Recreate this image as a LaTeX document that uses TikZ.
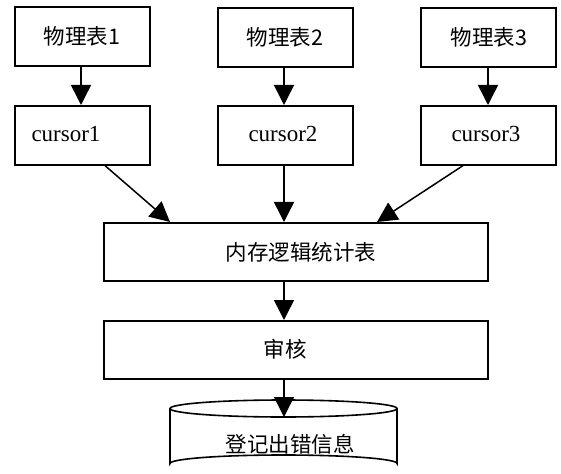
\documentclass[tikz,border=0pt]{standalone}
\usepackage{fontspec}
\setmainfont{Liberation Serif}
\newfontfamily\cjk{Noto Sans CJK SC}
\usetikzlibrary{arrows.meta}
\begin{document}
\begin{tikzpicture}[x=1bp,y=-1bp,
  box/.style={draw, line width=1.6bp, minimum width=135bp, minimum height=59bp, inner sep=0pt, anchor=north west},
  wide/.style={draw, line width=1.6bp, minimum width=384bp, minimum height=58bp, inner sep=0pt, anchor=north west},
  zh/.style={font=\cjk\fontsize{21.5bp}{25bp}\selectfont},
  en/.style={font=\fontsize{23bp}{26bp}\selectfont},
  arr/.style={line width=1.5bp, -{Triangle[width=20bp,length=20bp]}}]
\useasboundingbox[fill=white] (0,0) rectangle (561,474);
% top boxes
\node[box] (t1) at (14,6) {};
\node[box] (t2) at (217,7) {};
\node[box] (t3) at (420,7) {};
\node[zh] (t1l) at (82,36) {物理表1};
\node[zh] (t2l) at (285,37) {物理表2};
\node[zh] (t3l) at (489,37) {物理表3};
% cursor boxes
\node[box] (c1) at (14,105) {};
\node[box] (c2) at (217,105) {};
\node[box] (c3) at (420,105) {};
\node[en] (c1l) at (66,134) {cursor1};
\node[en] (c2l) at (283,134) {cursor2};
\node[en] (c3l) at (486,134) {cursor3};
% wide boxes
\node[wide] (mem) at (103,222) {};
\node[zh] (meml) at (301,252) {内存逻辑统计表};
\node[wide] (aud) at (103,320) {};
\node[zh] (audl) at (285,349) {审核};
% cylinder
\draw[line width=1.6bp] (170,408.5) -- (170,463.5) arc[start angle=180,end angle=360,x radius=113.5,y radius=8.5] -- (397,408.5);
\draw[line width=1.6bp] (283.5,408.5) ellipse[x radius=113.5,y radius=8.5];
\node[zh] (db) at (290,444) {登记出错信息};
\coordinate (dbtop) at (284,417);
% connectors
\draw[arr] (t1.south -| 81,0) -- (c1.north -| 81,0);
\draw[arr] (t2.south -| 284,0) -- (c2.north -| 284,0);
\draw[arr] (t3.south -| 488,0) -- (c3.north -| 488,0);
\draw[arr] (c1.south -| 105,0) -- (mem.north -| 170,0);
\draw[arr] (c2.south -| 284,0) -- (mem.north -| 284,0);
\draw[arr] (c3.south -| 463,0) -- (mem.north -| 377,0);
\draw[arr] (mem.south -| 284,0) -- (aud.north -| 284,0);
\draw[arr] (aud.south -| 284,0) -- (dbtop);
\end{tikzpicture}
\end{document}
